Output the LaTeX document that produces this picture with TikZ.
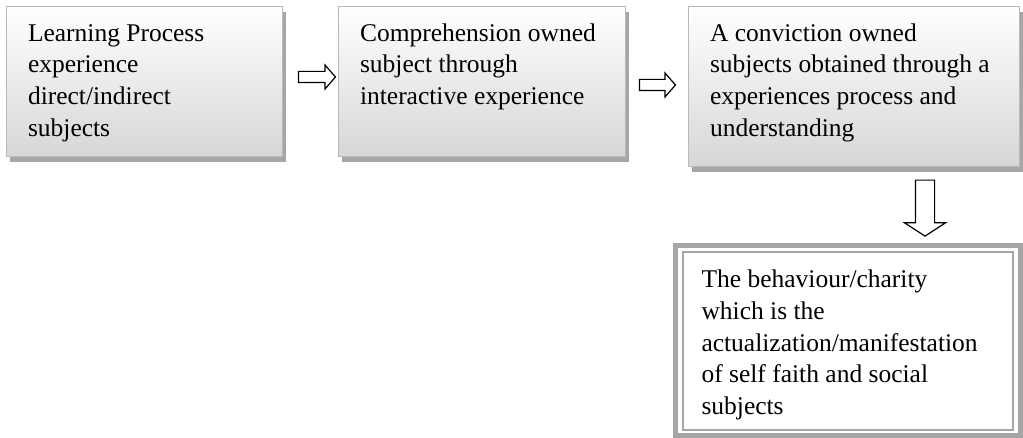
\documentclass[tikz,border=0pt]{standalone}
\usepackage{fontspec}
\setmainfont{Liberation Serif}
\usetikzlibrary{shapes.arrows,shadows}

\tikzset{
  stepbox/.style={draw=gray!55, line width=1pt, top color=white, bottom color=gray!32,
    anchor=north west, outer sep=0pt, inner xsep=22pt, inner ysep=12pt,
    drop shadow={shadow xshift=4pt, shadow yshift=-5pt, fill=gray!70, opacity=1}},
  endbox/.style={draw=gray!70, line width=5pt, fill=white, anchor=north west,
    outer sep=0pt, inner xsep=26pt, inner ysep=20pt},
  fatarrow/.style={single arrow, draw=black, line width=1.2pt, fill=white,
    inner xsep=0pt, text height=0pt, text depth=0pt}
}
\newcommand{\boxtext}[3]{\parbox[b][#2][t]{#1}{\raggedright\strut #3}}

\begin{document}
\begin{tikzpicture}[x=1pt,y=-1pt]
  \useasboundingbox (0,0) rectangle (1023,438);
  \fontsize{25.5}{31.7}\selectfont

  \node[stepbox] (learn) at (6,7)
    {\boxtext{232pt}{126pt}{Learning Process\\ experience\\ direct/indirect\\ subjects}};
  \node[stepbox] (compr) at (338,7)
    {\boxtext{243pt}{126pt}{Comprehension owned\\ subject through\\ interactive experience}};
  \node[stepbox] (convic) at (688,7)
    {\boxtext{287pt}{136pt}{A conviction owned\\ subjects obtained through a\\ experiences process and\\ understanding}};

  \node[endbox] (behav) at (675.5,245.5)
    {\boxtext{292.5pt}{149.5pt}{The behaviour/charity\\ which is the\\ actualization/manifestation\\ of self faith and social\\ subjects}};
  \draw[gray!70, line width=2pt]
    ([shift={(7,7)}]behav.north west) rectangle ([shift={(-7,-5)}]behav.south east);

  % block arrows between the steps
  \node[fatarrow, inner ysep=5pt, minimum height=37pt, single arrow head extend=6.5pt,
    single arrow tip angle=98] (arr1) at (314.5,77) {};
  \node[fatarrow, inner ysep=5pt, minimum height=36pt, single arrow head extend=6.5pt,
    single arrow tip angle=98] (arr2) at (655,85) {};
  \node[fatarrow, inner ysep=9pt, minimum height=56pt, single arrow head extend=11pt,
    single arrow tip angle=114, rotate=-90] (arr3) at (925,205) {};
\end{tikzpicture}
\end{document}
